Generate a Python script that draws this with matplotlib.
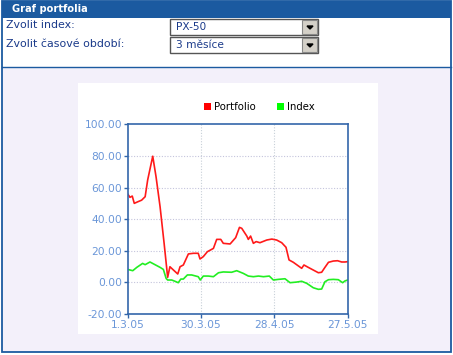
import matplotlib.pyplot as plt
from matplotlib.patches import Rectangle

# days since 1.3.05
port_days = [0, 0.9, 1.8, 2.6, 4, 5.5, 6.9, 7.9, 9.9, 11.2, 12.8, 14.4, 15.8, 16.7, 18.1, 19.8,
             20.7, 22, 24, 26, 27.9, 28.6, 29.9, 31.5, 33.9, 35.2, 36.8, 37.8, 40.5, 42.7, 44.2,
             45.1, 47.1, 47.7, 48.6, 49.7, 50.8, 52.3, 55, 57, 58.9, 60.9, 62.6, 63.8, 65.5,
             67.5, 68.8, 69.7, 71.4, 73.4, 75.4, 76.7, 78, 79.4, 81.3, 83, 84.6, 85.9, 87]
portfolio = [55.9, 53.8, 54.6, 50.0, 51.0, 52.0, 54.2, 64.8, 79.8, 66.9, 47.9, 24.7, 3.2, 9.9,
             7.8, 5.3, 9.9, 11.0, 18.0, 18.4, 18.4, 14.8, 16.3, 19.4, 21.5, 27.2, 27.2, 24.7,
             24.3, 28.3, 34.8, 34.2, 29.3, 27.2, 29.3, 24.7, 25.8, 25.1, 26.8, 27.4, 26.8, 25.1,
             22.2, 14.2, 12.7, 10.4, 8.9, 11.0, 9.5, 7.8, 6.1, 6.4, 9.5, 12.7, 13.5, 13.7, 12.9,
             12.9, 13.1]

index_days = [0, 2, 3.6, 5.9, 6.9, 8.8, 10.8, 12.8, 14.1, 15.2, 15.8, 17.4, 18.7, 20, 21, 22,
              23.6, 25.3, 27.9, 28.7, 29.9, 31.9, 33.9, 35.9, 37.8, 41.1, 43.1, 45.7, 47.7,
              49.7, 51.7, 53.7, 56, 57.6, 59.6, 62.2, 64.2, 66.8, 68.8, 70.8, 73.4, 75.4, 76.7,
              78, 79.4, 81.3, 83.3, 85, 85.9, 87]
index = [8.2, 7.4, 9.5, 12.0, 11.2, 12.9, 11.2, 9.5, 8.2, 2.5, 1.5, 1.5, 0.7, -0.2, 2.1, 2.1,
         4.7, 4.7, 3.6, 1.5, 4.0, 4.0, 3.6, 6.1, 6.6, 6.4, 7.4, 5.7, 4.0, 3.6, 4.0, 3.6, 4.0,
         1.5, 1.9, 2.3, -0.2, 0.2, 0.7, -0.6, -3.4, -4.4, -4.2, 0.4, 1.7, 1.9, 1.7, -0.2, 0.9,
         1.5]

tick_days = [0, 29, 58, 87]
tick_labels = ['1.3.05', '30.3.05', '28.4.05', '27.5.05']
y_ticks = [-20, 0, 20, 40, 60, 80, 100]

W, H = 453, 355
fig = plt.figure(figsize=(W / 100, H / 100), dpi=100)

# page background in pixel coords
bg = fig.add_axes([0, 0, 1, 1])
bg.set_xlim(0, W)
bg.set_ylim(H, 0)
bg.axis('off')

blue = '#1b5aa0'
bg.add_patch(Rectangle((0, 0), W, H, facecolor='white', edgecolor='none'))
bg.add_patch(Rectangle((2, 67), 449, 285, facecolor='#f3f0fa', edgecolor='none'))
bg.add_patch(Rectangle((78, 83), 300, 251, facecolor='white', edgecolor='none'))
bg.add_patch(Rectangle((2, 1), 449, 351, facecolor='none', edgecolor=blue, linewidth=1.3))
bg.add_patch(Rectangle((2, 1), 449, 17, facecolor=blue, edgecolor='none'))
bg.plot([2, 451], [66.5, 66.5], color=blue, linewidth=1)
bg.text(12.5, 9.5, 'Graf portfolia', color='white', fontsize=7.1, fontweight='bold',
        va='center', ha='left')

txt = '#1a3a8a'
bg.text(6, 25, 'Zvolit index:', color=txt, fontsize=7.9, va='center', ha='left')
bg.text(6, 44, 'Zvolit časové období:', color=txt, fontsize=7.9, va='center', ha='left')

for top, label in [(19, 'PX-50'), (37, '3 měsíce')]:
    bg.add_patch(Rectangle((170, top), 148, 16, facecolor='white', edgecolor='#555555',
                           linewidth=1))
    bg.add_patch(Rectangle((302, top + 1), 15, 14, facecolor='#d4d0c8', edgecolor='#888888',
                           linewidth=0.8))
    bg.fill([307, 313, 310], [top + 7, top + 7, top + 10], color='black')
    bg.text(176, top + 8.5, label, color='#1a3a8a', fontsize=7.6, va='center', ha='left')

# legend
bg.add_patch(Rectangle((204, 103), 7, 7, facecolor='#ff0000', edgecolor='none'))
bg.text(214, 106.5, 'Portfolio', color='black', fontsize=7.3, va='center', ha='left')
bg.add_patch(Rectangle((277, 103), 7, 7, facecolor='#00ff00', edgecolor='none'))
bg.text(287, 106.5, 'Index', color='black', fontsize=7.3, va='center', ha='left')

# chart
left, right, top, bottom = 127.7, 347.7, 124.3, 314
ax = fig.add_axes([left / W, (H - bottom) / H, (right - left) / W, (bottom - top) / H])
ax.set_facecolor('white')
ax.plot(port_days, portfolio, color='#ff1a1a', linewidth=1.2)
ax.plot(index_days, index, color='#22ee22', linewidth=1.2)
ax.set_xlim(0, 87)
ax.set_ylim(-20, 100)
ax.set_xticks(tick_days)
ax.set_xticklabels(tick_labels)
ax.set_yticks(y_ticks)
ax.set_yticklabels(['%.2f' % v for v in y_ticks])
for v in y_ticks[1:-1]:
    ax.axhline(v, color='#c4c4dc', linestyle=(0, (1, 1.5)), linewidth=0.8, zorder=0)
for d in tick_days[1:-1]:
    ax.axvline(d, color='#c8d0d8', linestyle=(0, (1, 1.5)), linewidth=0.8, zorder=0)
for s in ax.spines.values():
    s.set_color('#3366aa')
    s.set_linewidth(1.2)
ax.tick_params(colors='#3366aa', labelcolor='#6a96d8', labelsize=7.7, length=3, width=1,
               pad=1)

fig.savefig('out.png', dpi=100)
